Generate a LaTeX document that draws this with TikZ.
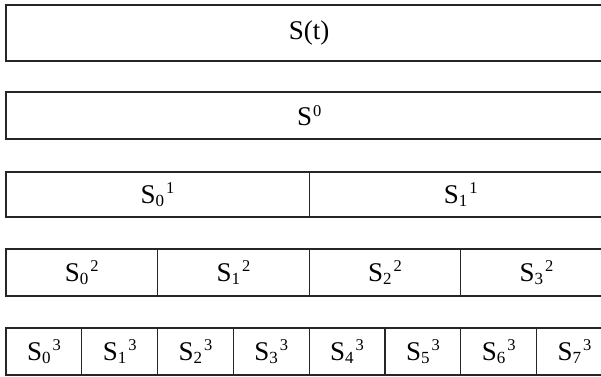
\documentclass[tikz,border=0pt]{standalone}
\usepackage{fontspec}
\setmainfont{Liberation Serif}
\usetikzlibrary{positioning}

\newcommand{\sub}[1]{\raisebox{-3pt}{\fontsize{17}{17}\selectfont #1}}
\newcommand{\lev}[1]{\raisebox{9.5pt}{\fontsize{16.5}{16}\selectfont #1}}
\tikzset{
  cell/.style={draw=black!85, line width=1.2pt, inner sep=0pt, outer sep=0pt,
    anchor=north west, font=\fontsize{27}{32}\selectfont}
}

\begin{document}
\begin{tikzpicture}[x=1pt,y=-1pt]
\useasboundingbox (0,0) rectangle (601,376);
\clip (0,0) rectangle (601,376);
% whole signal and level 0
\node[cell, minimum width=606.4pt, minimum height=56pt] (st) at (6,5) {S(t)};
\node[cell, minimum width=606.4pt, minimum height=47pt] (s0) at (6,92) {S\kern1pt\lev{0}};
% level 1
\foreach \i in {0,1}
  \node[cell, minimum width=303.2pt, minimum height=45pt] (s1\i) at (6+303.2*\i,172)
    {S\sub{\i}\kern2pt\lev{1}};
% level 2
\foreach \i in {0,...,3}
  \node[cell, minimum width=151.6pt, minimum height=47pt] (s2\i) at (6+151.6*\i,249)
    {S\sub{\i}\kern2pt\lev{2}};
% level 3
\foreach \i in {0,...,7}
  \node[cell, minimum width=75.8pt, minimum height=47pt] (s3\i) at (6+75.8*\i,328)
    {S\sub{\i}\kern2pt\lev{3}};
\end{tikzpicture}
\end{document}
